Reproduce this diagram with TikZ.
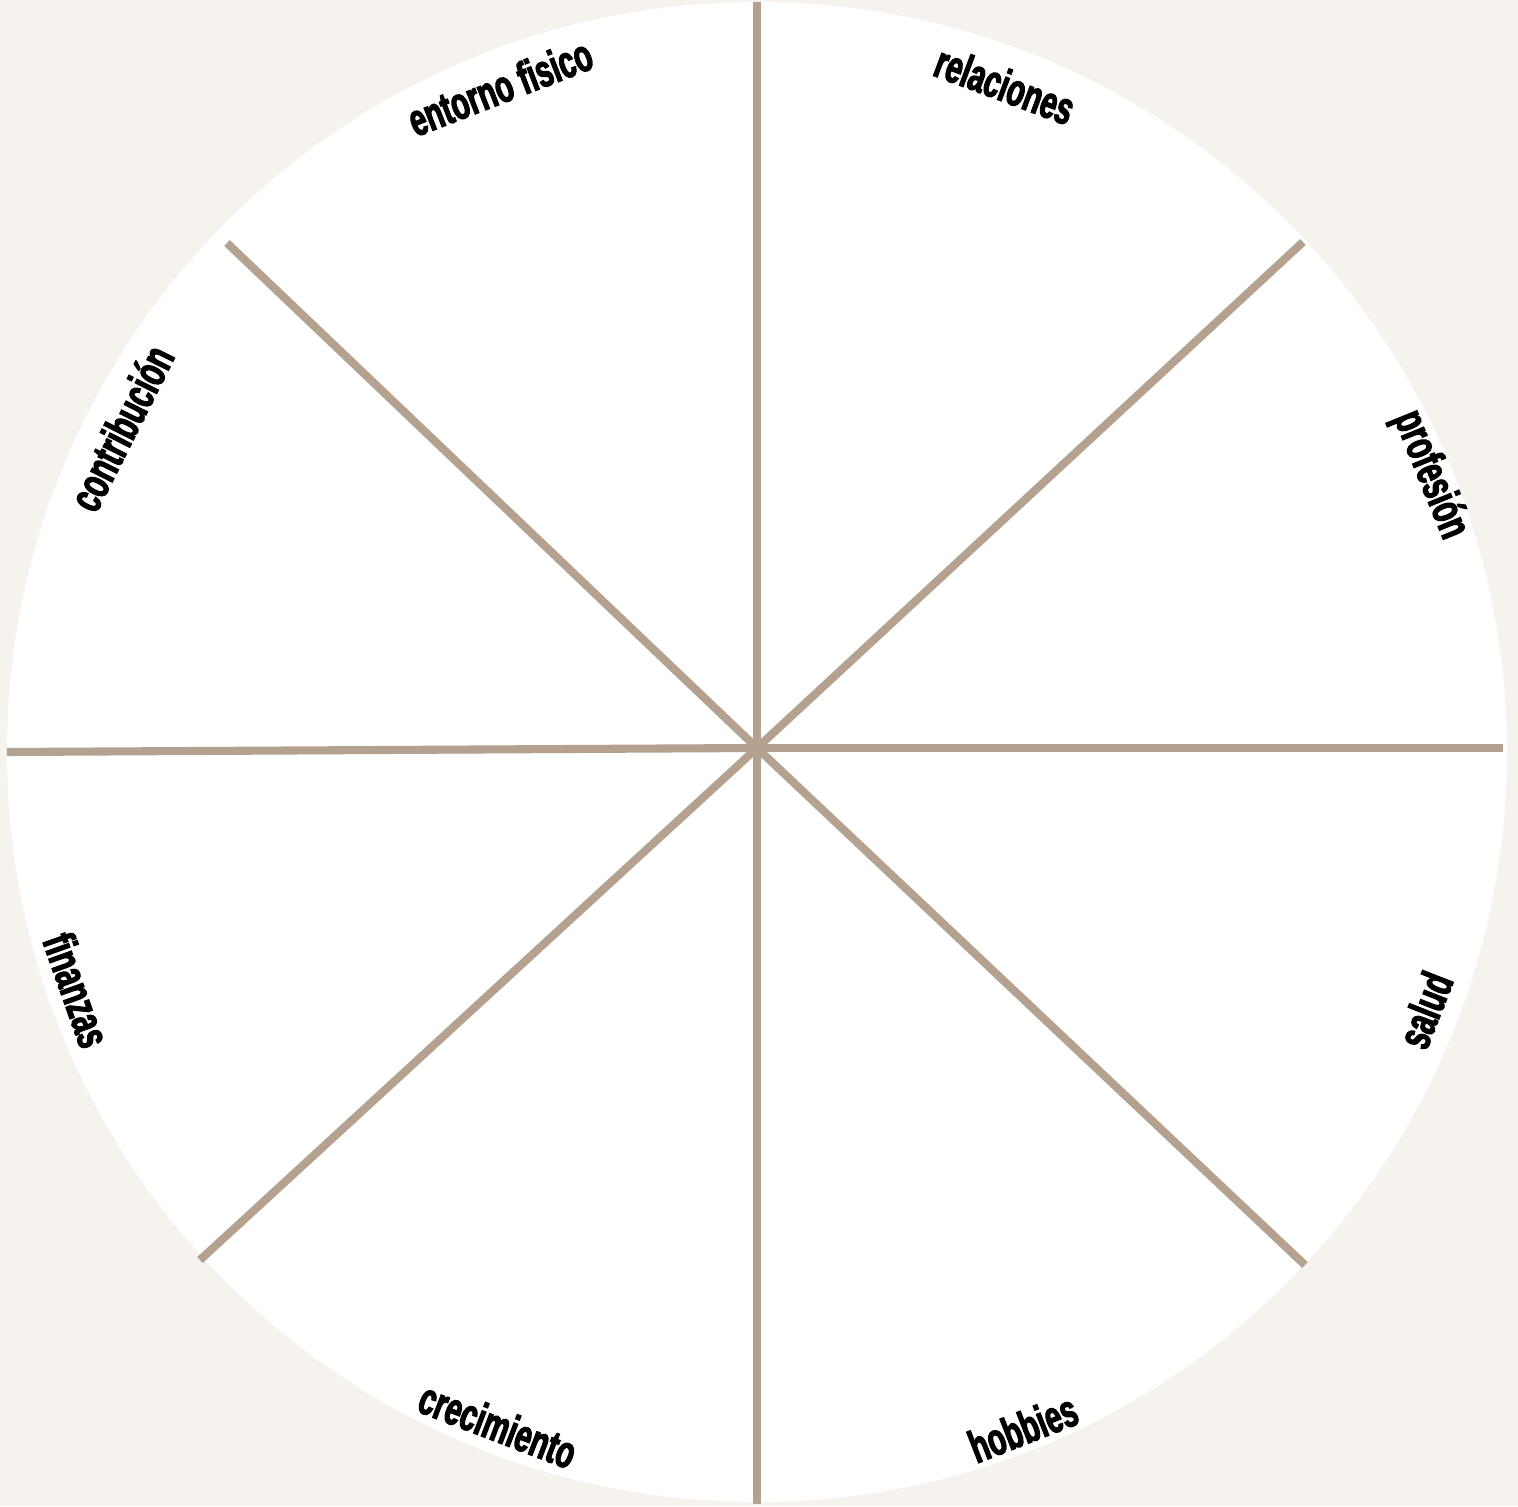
\documentclass[tikz,border=0pt]{standalone}
\usepackage{fontspec}
\usepackage{xcolor}
\usepackage{tikz}
\newfontfamily\wheelfont[FakeStretch=0.64,FakeBold=2.5]{Liberation Sans Bold}
\definecolor{paper}{HTML}{F6F3EE}
\definecolor{spoke}{HTML}{B5A190}
\begin{document}
\begin{tikzpicture}[
  font=\wheelfont\fontsize{13}{15}\selectfont,
  ray/.style ={draw=spoke, line width=2.3pt},
  lbl/.style ={inner sep=0pt, text=black}
]
% background and page extent
\fill[paper] (-7.57,-7.58) rectangle (7.61,7.48);
\useasboundingbox (-7.57,-7.58) rectangle (7.61,7.48);

% =============== wheel ===============
\fill[white] (0,-0.04) circle (7.50);

\coordinate (hub) at (0,0);
\coordinate (n)  at (0,7.46);
\coordinate (s)  at (0,-7.56);
\coordinate (w)  at (-7.50,-0.04);
\coordinate (e)  at (7.46,0);
\coordinate (nw) at (-5.30,5.05);
\coordinate (ne) at (5.46,5.06);
\coordinate (sw) at (-5.57,-5.12);
\coordinate (se) at (5.48,-5.17);

\foreach \tip in {n,ne,e,se,s,sw,w,nw}
  \draw[ray] (hub) -- (\tip);

% =============== labels ===============
% upper half: letters lean outwards, lower half: letters lean inwards
\node[lbl, rotate=21.2]  (entorno) at (-2.57,6.61)  {entorno fisico};
\node[lbl, rotate=-20.5] (relac)   at (2.48,6.63)   {relaciones};
\node[lbl, rotate=-67.9] (prof)    at (6.73,2.73)   {profesión};
\node[lbl, rotate=68.6]  (salud)   at (6.68,-2.62)  {salud};
\node[lbl, rotate=21.4]  (hobby)   at (2.66,-6.80)  {hobbies};
\node[lbl, rotate=-21]   (crec)    at (-2.59,-6.77) {crecimiento};
\node[lbl, rotate=-70.4] (finan)   at (-6.80,-2.42) {finanzas};
\node[lbl, rotate=63.3]  (contrib) at (-6.36,3.20)  {contribución};
\end{tikzpicture}
\end{document}
